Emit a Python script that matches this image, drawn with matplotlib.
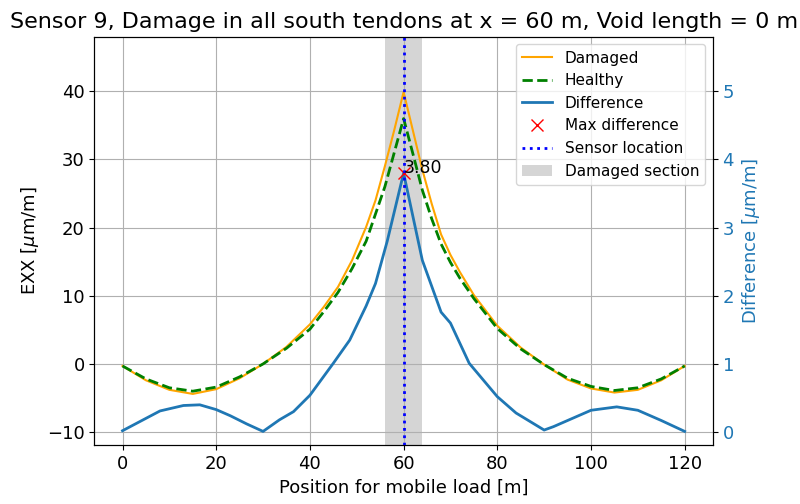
import matplotlib

matplotlib.use("Agg")
import matplotlib.pyplot as plt

plt.rcParams["font.size"] = 13

# mobile load positions [m] for the strain curves
position = [0, 5, 10, 15, 20, 25, 30, 35, 40, 43, 46, 49, 52, 54, 56, 58, 60,
            62, 64, 66, 68, 70, 72, 75, 80, 85, 90, 95, 100, 105, 110, 115, 120]
# EXX [um/m]
damaged = [-0.3, -2.4, -3.8, -4.4, -3.7, -2.1, 0.0, 2.5, 5.8, 8.4, 11.3, 15.2,
           20.1, 24.0, 29.0, 34.3, 39.9, 34.2, 28.5, 23.5, 19.0, 16.0, 13.5,
           10.1, 5.6, 2.4, -0.1, -2.3, -3.6, -4.2, -3.8, -2.4, -0.3]
healthy = [-0.3, -2.2, -3.5, -4.0, -3.4, -1.9, 0.0, 2.3, 5.1, 7.7, 10.5, 14.0,
           18.0, 22.0, 26.0, 31.0, 36.0, 30.8, 25.5, 21.3, 17.6, 14.9, 12.6,
           9.6, 5.2, 2.2, -0.1, -2.1, -3.3, -3.9, -3.5, -2.2, -0.3]

# positions [m] and values [um/m] for the difference curve
position_diff = [0, 8, 13, 16.5, 20, 23, 26.5, 30, 33.5, 36.5, 40, 45, 48.5,
                 52, 54, 56.5, 60, 64, 68, 70, 74, 80, 84, 90, 92, 96, 100,
                 105.5, 110, 115, 120]
difference = [0.02, 0.31, 0.39, 0.40, 0.33, 0.24, 0.12, 0.01, 0.18, 0.30,
              0.54, 1.01, 1.35, 1.85, 2.18, 2.80, 3.80, 2.52, 1.76, 1.60,
              1.01, 0.52, 0.28, 0.03, 0.08, 0.20, 0.32, 0.37, 0.32, 0.17, 0.01]

sensor_x = 60
max_diff = 3.80
damaged_section = (56, 64)

fig, ax1 = plt.subplots(figsize=(8, 5.04), dpi=100)
fig.subplots_adjust(left=0.118, right=0.891, top=0.927, bottom=0.117)

l1, = ax1.plot(position, damaged, color="orange", label="Damaged")
l2, = ax1.plot(position, healthy, color="green", linestyle="--", linewidth=2,
               label="Healthy")
span = ax1.axvspan(*damaged_section, color="grey", alpha=0.33, linewidth=0,
                   label="Damaged section")
ax1.set_xlabel("Position for mobile load [m]")
ax1.set_ylabel("EXX [$\\mu$m/m]")
ax1.set_xlim(-6, 126)
ax1.set_ylim(-11.9, 48.0)
ax1.grid(True)
ax1.set_title("Sensor 9, Damage in all south tendons at x = 60 m, Void length = 0 m",
              fontsize=16)

ax2 = ax1.twinx()
l3, = ax2.plot(position_diff, difference, color="tab:blue", linewidth=2,
               label="Difference")
l4, = ax2.plot([sensor_x], [max_diff], "rx", markersize=8,
               label="Max difference")
ax2.text(sensor_x, max_diff, f"{max_diff:.2f}", fontsize=12.5)
l5 = ax2.axvline(sensor_x, color="blue", linestyle=":", linewidth=2,
                 label="Sensor location")
ax2.set_ylim(-0.19, 5.8)
ax2.set_ylabel("Difference [$\\mu$m/m]", color="tab:blue")
ax2.tick_params(axis="y", labelcolor="tab:blue")

handles = [l1, l2, l3, l4, l5, span]
ax2.legend(handles, [h.get_label() for h in handles], loc="upper right",
           fontsize=11)

fig.savefig("out.png", dpi=100)
